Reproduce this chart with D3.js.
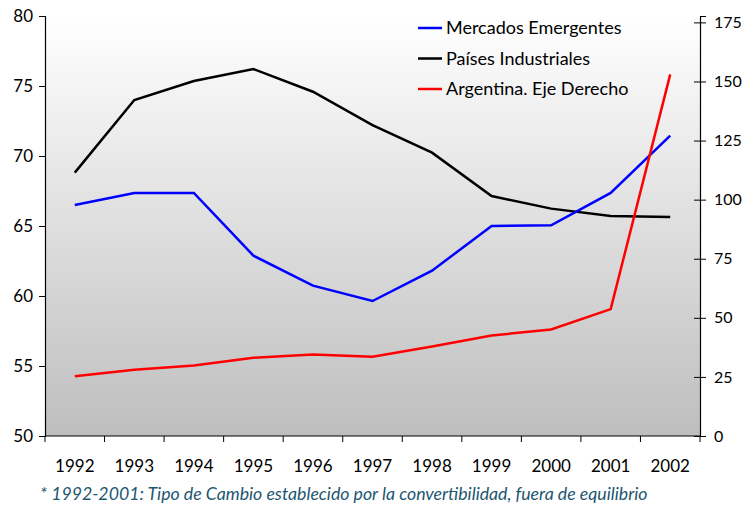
<!DOCTYPE html>
<html>
<head>
<meta charset="utf-8">
<script src="https://cdn.jsdelivr.net/npm/d3@7"></script>
<style>
  body { margin: 0; background: #fff; }
  svg text { font-family: Lato, "Open Sans", sans-serif; }
</style>
</head>
<body>
<svg id="chart"></svg>
<script>
// Data
const years = ['1992','1993','1994','1995','1996','1997','1998','1999','2000','2001','2002'];
const emergentes = [66.5, 67.36, 67.36, 62.88, 60.74, 59.64, 61.81, 65.0, 65.05, 67.36, 71.45];
const industriales = [68.81, 74.0, 75.36, 76.21, 74.59, 72.21, 70.24, 67.14, 66.24, 65.71, 65.64];
const argentina = [25.3, 28.0, 29.8, 33.1, 34.5, 33.5, 37.9, 42.5, 45.1, 53.7, 153.0];
const leftTicks = [50, 55, 60, 65, 70, 75, 80];
const rightTicks = [0, 25, 50, 75, 100, 125, 150, 175];
const seriesNames = ['Mercados Emergentes', 'Países Industriales', 'Argentina. Eje Derecho'];

const W = 744, H = 507;
const m = {left: 45, right: 44, top: 16, bottom: 71};

const svg = d3.select('#chart').attr('width', W).attr('height', H);

const x = d3.scaleBand().domain(years).range([m.left, W - m.right]);
const yL = d3.scaleLinear().domain([50, 80]).range([H - m.bottom, m.top]);
const yR = d3.scaleLinear().domain([0, 177.7]).range([H - m.bottom, m.top]);

// gradient background
const grad = svg.append('defs').append('linearGradient')
    .attr('id', 'bg').attr('x1', 0).attr('y1', 0).attr('x2', 0).attr('y2', 1);
grad.append('stop').attr('offset', '0%').attr('stop-color', '#ffffff');
grad.append('stop').attr('offset', '100%').attr('stop-color', '#bebebe');

svg.append('rect')
    .attr('x', m.left).attr('y', m.top)
    .attr('width', W - m.left - m.right).attr('height', H - m.top - m.bottom)
    .attr('fill', 'url(#bg)');

// axes
const gL = svg.append('g')
    .attr('transform', `translate(${m.left},0)`)
    .call(d3.axisLeft(yL).tickValues(leftTicks).tickSize(6).tickPadding(6));
const gR = svg.append('g')
    .attr('transform', `translate(${W - m.right},0)`)
    .call(d3.axisRight(yR).tickValues(rightTicks).tickSize(6).tickPadding(8));
gR.selectAll('.tick line').attr('x1', -6);
const gX = svg.append('g')
    .attr('transform', `translate(0,${H - m.bottom})`)
    .call(d3.axisBottom(x).tickSize(0).tickPadding(24));
// category boundary ticks
gX.selectAll('.sep')
    .data(years.concat(['end']))
    .join('line')
    .attr('class', 'sep')
    .attr('x1', (d, i) => m.left + i * x.step())
    .attr('x2', (d, i) => m.left + i * x.step())
    .attr('y1', 0).attr('y2', 6)
    .attr('stroke', '#000');

[gL, gR, gX].forEach(g => {
    g.selectAll('.domain').attr('stroke', '#000').attr('stroke-width', 1.2);
    g.selectAll('.tick line').attr('stroke', '#000');
    g.selectAll('text').attr('font-size', 17).attr('fill', '#000');
});
gR.selectAll('text').attr('font-size', 16);
gX.select('.domain').attr('d', `M${m.left},0H${W - m.right}`);

// lines
const cx = d => x(d) + x.bandwidth() / 2;
const lineL = d3.line().x((d, i) => cx(years[i])).y(d => yL(d));
const lineR = d3.line().x((d, i) => cx(years[i])).y(d => yR(d));

svg.append('path').datum(industriales)
    .attr('d', lineL).attr('fill', 'none').attr('stroke', '#000').attr('stroke-width', 2.5);
svg.append('path').datum(emergentes)
    .attr('d', lineL).attr('fill', 'none').attr('stroke', '#0000ff').attr('stroke-width', 2.5);
svg.append('path').datum(argentina)
    .attr('d', lineR).attr('fill', 'none').attr('stroke', '#ff0000').attr('stroke-width', 2.5);

// legend
const colors = ['#0000ff', '#000', '#ff0000'];
const leg = svg.append('g').attr('transform', 'translate(418,28)');
seriesNames.forEach((name, i) => {
    const row = leg.append('g').attr('transform', `translate(0,${i * 30.5})`);
    row.append('line').attr('x1', 0).attr('x2', 24).attr('y1', 0).attr('y2', 0)
        .attr('stroke', colors[i]).attr('stroke-width', 2.5);
    row.append('text').attr('x', 28).attr('y', 0).attr('dy', '0.35em')
        .attr('font-size', 18).text(name);
});

// footnote
svg.append('text')
    .attr('x', 40).attr('y', 500)
    .attr('font-size', 17.7).attr('font-style', 'italic').attr('fill', '#1d5670')
    .text('* 1992-2001: Tipo de Cambio establecido por la convertibilidad, fuera de equilibrio');
</script>
</body>
</html>
